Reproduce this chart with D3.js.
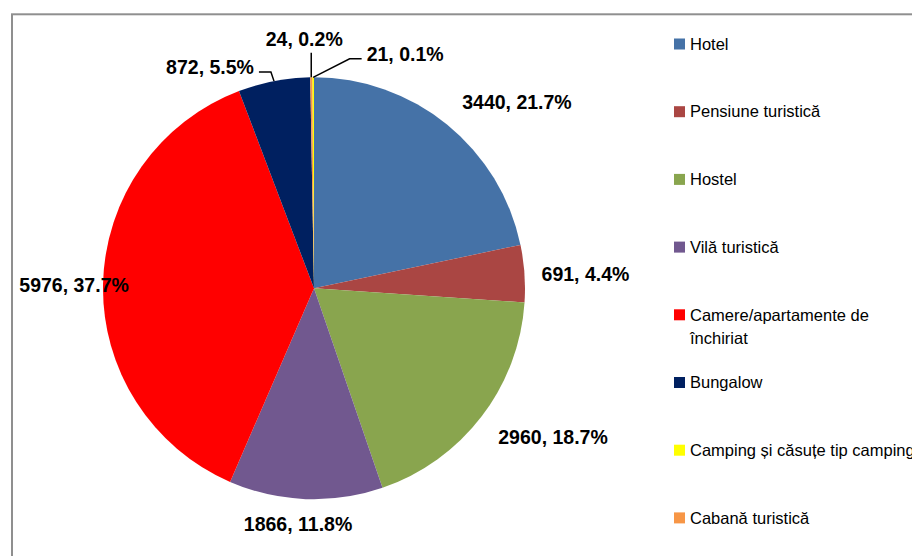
<!DOCTYPE html>
<html>
<head>
<meta charset="utf-8">
<script src="https://cdn.jsdelivr.net/npm/d3@7/dist/d3.min.js"></script>
<style>
  html, body { margin: 0; padding: 0; background: #fff; overflow: hidden; }
  svg { display: block; }
</style>
</head>
<body>
<svg id="chart" width="912" height="556"></svg>
<script>
// Accommodation types and counts
const categories = [
  "Hotel",
  "Pensiune turistică",
  "Hostel",
  "Vilă turistică",
  "Camere/apartamente de închiriat",
  "Bungalow",
  "Camping și căsuțe tip camping",
  "Cabană turistică"
];
const values = [3440, 691, 2960, 1866, 5976, 872, 21, 24];
const colors = ["#4572A7", "#AA4643", "#89A54E", "#71588F", "#FF0000", "#002060", "#FFFF00", "#F79646"];

// Order in which slices run clockwise from 12 o'clock (indices into categories)
const sliceOrder = [0, 1, 2, 3, 4, 5, 7, 6];

// Legend text, split into lines
const legendLines = [
  ["Hotel"],
  ["Pensiune turistică"],
  ["Hostel"],
  ["Vilă turistică"],
  ["Camere/apartamente de", "închiriat"],
  ["Bungalow"],
  ["Camping și căsuțe tip camping"],
  ["Cabană turistică"]
];

// Data label placement: offset of label centre from the slice's outer edge point,
// plus side of the leader line (null = no leader)
const labelOffsets = [
  [70, -22.5, null],
  [61, 0.5, null],
  [71.5, 20.3, null],
  [-7.7, 25.4, null],
  [-29, 1.5, null],
  [-64, -14, "right"],
  [92, -23.5, "left"],
  [-7, -38.5, "below"]
];

const svg = d3.select("#chart");
const W = 912, H = 556;
const cx = 314, cy = 288.3, R = 211;

// Chart area frame
svg.append("rect")
  .attr("x", 12).attr("y", 14.3)
  .attr("width", 1000).attr("height", 1000)
  .attr("fill", "none")
  .attr("stroke", "#8f8f8f")
  .attr("stroke-width", 2);

const data = values.map((v, i) => ({ i, v }));
const total = d3.sum(values);
const pct = d3.format(".1%");

const pie = d3.pie()
  .value(d => d.v)
  .sort((a, b) => sliceOrder.indexOf(a.i) - sliceOrder.indexOf(b.i));
const arcs = pie(data);
const arc = d3.arc().innerRadius(0).outerRadius(R);

const g = svg.append("g").attr("transform", `translate(${cx},${cy})`);

g.selectAll("path.slice")
  .data(arcs)
  .join("path")
  .attr("class", "slice")
  .attr("d", arc)
  .attr("fill", d => colors[d.data.i]);

// Data labels
const labelFont = "'Liberation Sans', Arial, sans-serif";
const labelSize = 19.5;
arcs.forEach(a => {
  const i = a.data.i;
  const mid = (a.startAngle + a.endAngle) / 2;
  const ex = R * Math.sin(mid), ey = -R * Math.cos(mid);
  const [dx, dy, side] = labelOffsets[i];
  const lx = ex + dx, ly = ey + dy;
  const t = g.append("text")
    .attr("x", lx).attr("y", ly)
    .attr("dy", "0.35em")
    .attr("text-anchor", "middle")
    .attr("font-family", labelFont)
    .attr("font-weight", "bold")
    .attr("font-size", labelSize)
    .attr("fill", "#000")
    .text(`${values[i]}, ${pct(values[i] / total)}`);
  if (side) {
    const bb = t.node().getBBox();
    let pts;
    if (side === "right") {
      const endX = bb.x + bb.width + 5, yy = ly + 5;
      pts = [[endX, yy], [endX + 12, yy], [ex, ey]];
    } else if (side === "left") {
      const endX = bb.x - 5, yy = ly + 5;
      pts = [[endX, yy], [endX - 12, yy], [ex, ey]];
    } else {
      pts = [[ex, bb.y + bb.height + 3], [ex, ey]];
    }
    g.append("path")
      .attr("d", d3.line()(pts))
      .attr("fill", "none")
      .attr("stroke", "#000")
      .attr("stroke-width", 1.5);
  }
});

// Legend
const legendY = d3.scalePoint()
  .domain(d3.range(categories.length))
  .range([44, 517.9]);
const legend = svg.append("g");
categories.forEach((c, i) => {
  const y = legendY(i);
  legend.append("rect")
    .attr("x", 674).attr("y", y - 5.5)
    .attr("width", 11).attr("height", 11)
    .attr("fill", colors[i]);
  const txt = legend.append("text")
    .attr("font-family", "'Liberation Sans', Arial, sans-serif")
    .attr("font-size", 16.5)
    .attr("fill", "#000");
  legendLines[i].forEach((line, k) => {
    txt.append("tspan")
      .attr("x", 690)
      .attr("y", y + k * 23)
      .attr("dy", "0.35em")
      .text(line);
  });
});
</script>
</body>
</html>
